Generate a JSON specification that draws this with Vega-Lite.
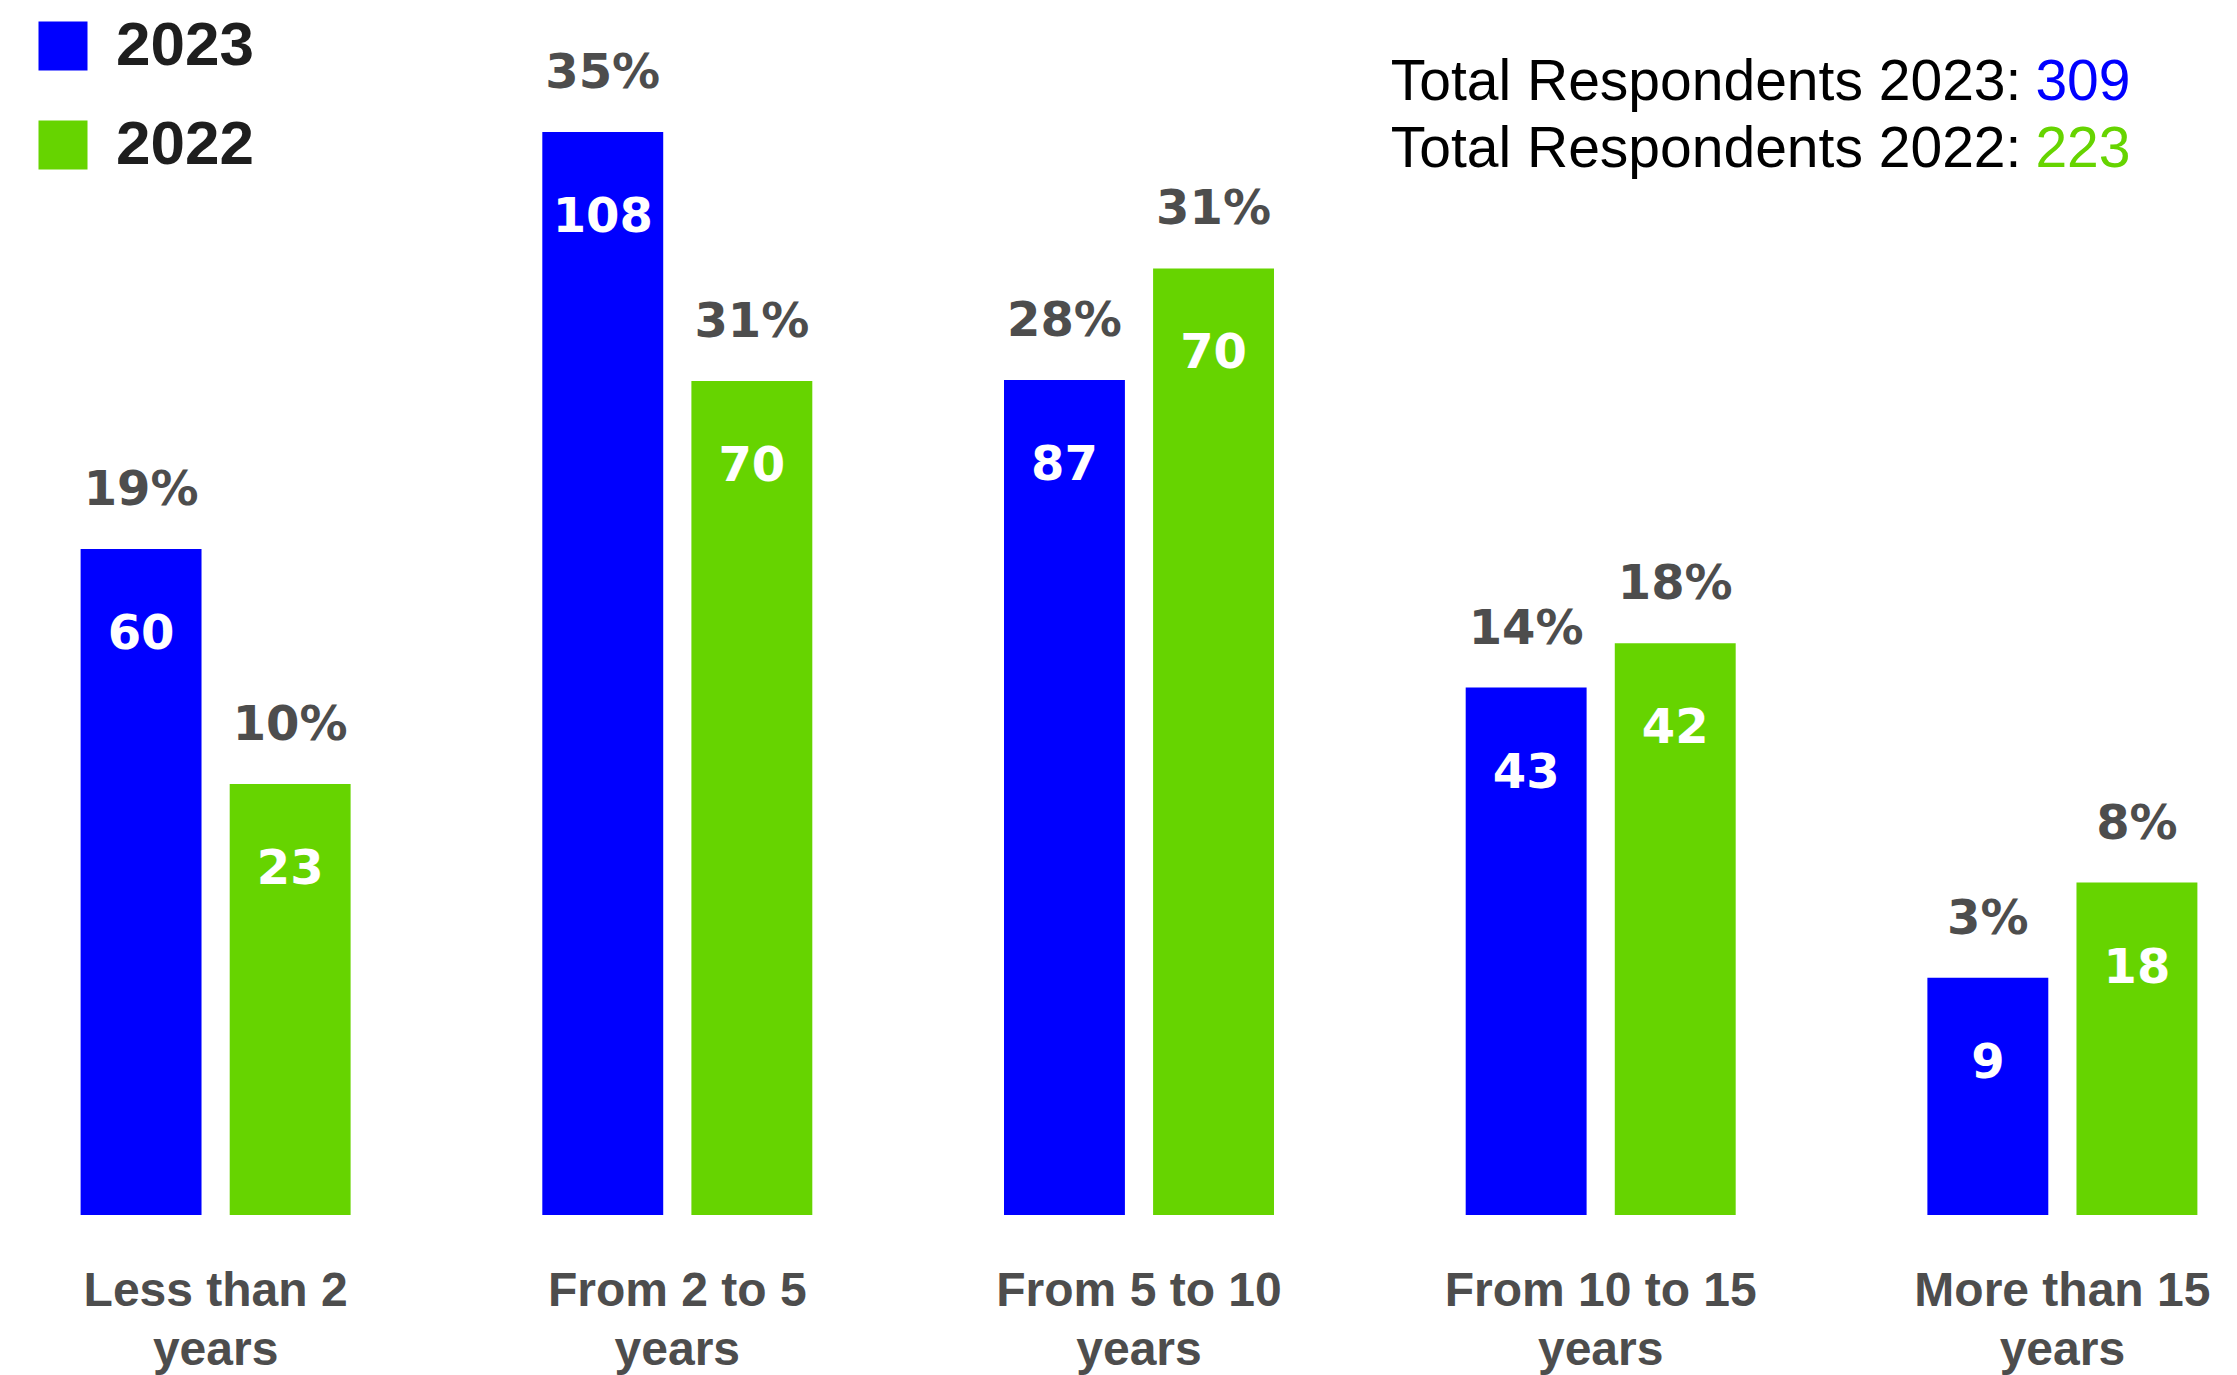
{
  "$schema": "https://vega.github.io/schema/vega-lite/v6.json",
  "width": 2237,
  "height": 1215,
  "autosize": {"type": "none"},
  "padding": {"left": 0, "top": 0, "right": 0, "bottom": 160},
  "background": "#ffffff",
  "config": {"view": {"stroke": null}},
  "data": {
    "values": [
      {"experience": "Less than 2 years", "year": "2023", "count": 60, "pct": "19%", "drawn": 61.5},
      {"experience": "Less than 2 years", "year": "2022", "count": 23, "pct": "10%", "drawn": 39.8},
      {"experience": "From 2 to 5 years", "year": "2023", "count": 108, "pct": "35%", "drawn": 100},
      {"experience": "From 2 to 5 years", "year": "2022", "count": 70, "pct": "31%", "drawn": 77.0},
      {"experience": "From 5 to 10 years", "year": "2023", "count": 87, "pct": "28%", "drawn": 77.1},
      {"experience": "From 5 to 10 years", "year": "2022", "count": 70, "pct": "31%", "drawn": 87.4},
      {"experience": "From 10 to 15 years", "year": "2023", "count": 43, "pct": "14%", "drawn": 48.7},
      {"experience": "From 10 to 15 years", "year": "2022", "count": 42, "pct": "18%", "drawn": 52.8},
      {"experience": "More than 15 years", "year": "2023", "count": 9, "pct": "3%", "drawn": 21.9},
      {"experience": "More than 15 years", "year": "2022", "count": 18, "pct": "8%", "drawn": 30.7}
    ]
  },
  "layer": [
    {
      "encoding": {
        "x": {
          "field": "experience",
          "type": "nominal",
          "sort": null,
          "scale": {"range": [0, 2278], "paddingInner": 0.4152, "paddingOuter": 0.1746},
          "axis": {
            "title": null,
            "domain": false,
            "ticks": false,
            "labelAngle": 0,
            "labelFont": "Liberation Sans",
            "labelFontWeight": "bold",
            "labelFontSize": 48,
            "labelColor": "#4d4d4d",
            "labelPadding": 52,
            "labelLineHeight": 59,
            "labelLimit": 0,
            "labelExpr": "[replace(datum.label, ' years', ''), 'years']"
          }
        },
        "xOffset": {
          "field": "year",
          "type": "nominal",
          "sort": ["2023", "2022"],
          "scale": {"paddingInner": 0.189, "paddingOuter": 0}
        },
        "y": {
          "field": "drawn",
          "type": "quantitative",
          "scale": {"domain": [0, 112.19], "nice": false, "zero": true},
          "axis": null
        }
      },
      "layer": [
        {
          "mark": {"type": "bar"},
          "encoding": {
            "color": {
              "field": "year",
              "type": "nominal",
              "sort": ["2023", "2022"],
              "scale": {"domain": ["2023", "2022"], "range": ["#0000ff", "#66d400"]},
              "legend": {
                "title": null,
                "orient": "none",
                "legendX": 32,
                "legendY": 15,
                "padding": 0,
                "symbolType": "square",
                "symbolSize": 2401,
                "symbolStrokeWidth": 0,
                "labelFont": "Liberation Sans",
                "labelFontWeight": "bold",
                "labelFontSize": 62,
                "labelColor": "#1e1e1e",
                "labelOffset": 22,
                "rowPadding": 37
              }
            }
          }
        },
        {
          "mark": {"type": "text", "font": "DejaVu Sans", "fontWeight": "bold", "fontSize": 48, "color": "#ffffff", "baseline": "middle", "align": "center", "dy": 86},
          "encoding": {"text": {"field": "count", "type": "quantitative"}}
        },
        {
          "mark": {"type": "text", "font": "DejaVu Sans", "fontWeight": "bold", "fontSize": 48, "color": "#4d4d4d", "baseline": "middle", "align": "center", "dy": -58},
          "encoding": {"text": {"field": "pct", "type": "nominal"}}
        }
      ]
    },
    {
      "data": {"values": [{"label": "Total Respondents 2023:"}]},
      "mark": {"type": "text", "font": "Liberation Sans", "fontSize": 57, "color": "#000000", "baseline": "middle", "align": "right", "dx": -41},
      "encoding": {
        "x": {"datum": "More than 15 years"},
        "y": {"datum": 104.53},
        "text": {"field": "label", "type": "nominal"}
      }
    },
    {
      "data": {"values": [{"n": 309}]},
      "mark": {"type": "text", "font": "Liberation Sans", "fontSize": 57, "color": "#0000ff", "baseline": "middle", "align": "left", "dx": -27},
      "encoding": {
        "x": {"datum": "More than 15 years"},
        "y": {"datum": 104.53},
        "text": {"field": "n", "type": "quantitative"}
      }
    },
    {
      "data": {"values": [{"label": "Total Respondents 2022:"}]},
      "mark": {"type": "text", "font": "Liberation Sans", "fontSize": 57, "color": "#000000", "baseline": "middle", "align": "right", "dx": -41},
      "encoding": {
        "x": {"datum": "More than 15 years"},
        "y": {"datum": 98.34},
        "text": {"field": "label", "type": "nominal"}
      }
    },
    {
      "data": {"values": [{"n": 223}]},
      "mark": {"type": "text", "font": "Liberation Sans", "fontSize": 57, "color": "#66d400", "baseline": "middle", "align": "left", "dx": -27},
      "encoding": {
        "x": {"datum": "More than 15 years"},
        "y": {"datum": 98.34},
        "text": {"field": "n", "type": "quantitative"}
      }
    }
  ]
}
